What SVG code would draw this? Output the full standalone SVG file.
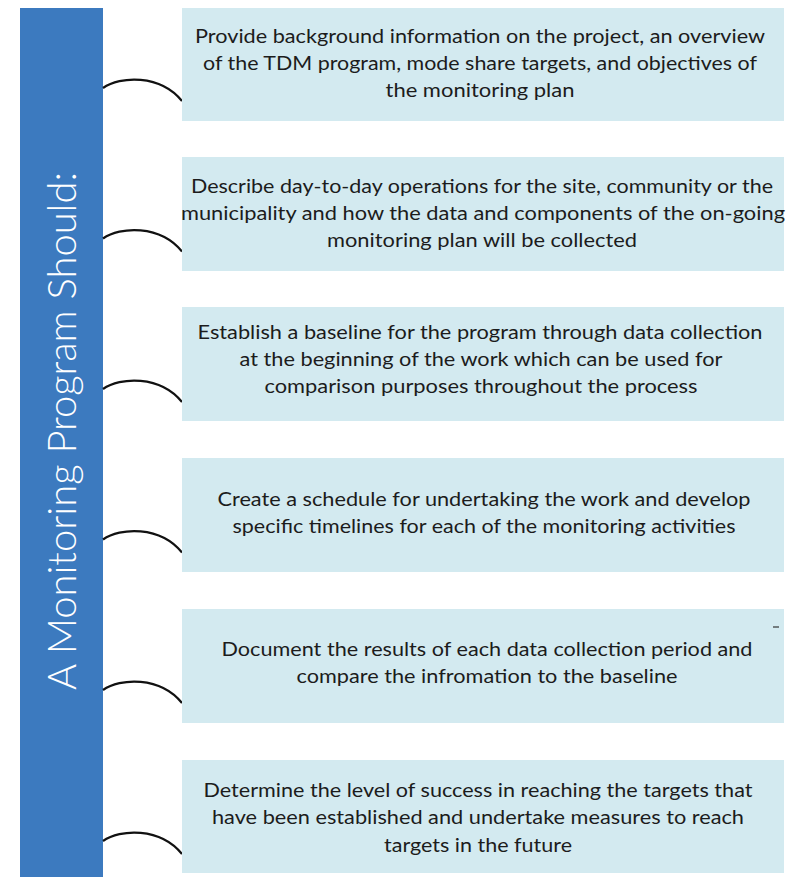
<svg xmlns="http://www.w3.org/2000/svg" width="795" height="877" viewBox="0 0 795 877">
  <style>
    .box { fill: #d3eaf0; }
    .label { font-family: Lato, "Liberation Sans", sans-serif; font-size: 19.5px; fill: #1c1c1c; text-anchor: middle; }
    .arc { fill: none; stroke: #111; stroke-width: 2.2; }
    .title { font-family: Lato, "Liberation Sans", sans-serif; font-weight: 300; font-size: 40px; fill: #ffffff; text-anchor: middle; }
  </style>
  <rect width="795" height="877" fill="#ffffff"/>

  <!-- vertical heading bar -->
  <g id="heading">
    <rect x="20" y="8" width="83" height="869" fill="#3c7abf"/>
    <text class="title" transform="translate(76,431) rotate(-90)" textLength="518" lengthAdjust="spacingAndGlyphs">A Monitoring Program Should:</text>
  </g>

  <!-- curved links from the bar to each step -->
  <g id="connectors">
    <path class="arc" d="M103,88 C120,76 160,74 182,101"/>
    <path class="arc" d="M103,238.5 C120,226.5 160,224.5 182,251.5"/>
    <path class="arc" d="M103,389 C120,377 160,375 182,402"/>
    <path class="arc" d="M103,539.5 C120,527.5 160,525.5 182,552.5"/>
    <path class="arc" d="M103,690 C120,678 160,676 182,703"/>
    <path class="arc" d="M103,841 C120,829 160,827 182,854"/>
  </g>

  <g id="step1">
    <rect class="box" x="182" y="8" width="602" height="113"/>
    <text class="label" x="480" y="43" textLength="570" lengthAdjust="spacingAndGlyphs">Provide background information on the project, an overview</text>
    <text class="label" x="480" y="70" textLength="554" lengthAdjust="spacingAndGlyphs">of the TDM program, mode share targets, and objectives of</text>
    <text class="label" x="480" y="97" textLength="189" lengthAdjust="spacingAndGlyphs">the monitoring plan</text>
  </g>

  <g id="step2">
    <rect class="box" x="182" y="157" width="602" height="114"/>
    <text class="label" x="482" y="193" textLength="582" lengthAdjust="spacingAndGlyphs">Describe day-to-day operations for the site, community or the</text>
    <text class="label" x="483" y="220" textLength="604" lengthAdjust="spacingAndGlyphs">municipality and how the data and  components of the on-going</text>
    <text class="label" x="482" y="247" textLength="310" lengthAdjust="spacingAndGlyphs">monitoring plan will be  collected</text>
  </g>

  <g id="step3">
    <rect class="box" x="182" y="307" width="602" height="114"/>
    <text class="label" x="480" y="339" textLength="565" lengthAdjust="spacingAndGlyphs">Establish a baseline for the program through data collection</text>
    <text class="label" x="481" y="366" textLength="483" lengthAdjust="spacingAndGlyphs">at the beginning of the work which can be used  for</text>
    <text class="label" x="481" y="393" textLength="433" lengthAdjust="spacingAndGlyphs">comparison purposes throughout the process</text>
  </g>

  <g id="step4">
    <rect class="box" x="182" y="458" width="602" height="114"/>
    <text class="label" x="484" y="506" textLength="533" lengthAdjust="spacingAndGlyphs">Create a schedule for undertaking the work and develop</text>
    <text class="label" x="484" y="533" textLength="503" lengthAdjust="spacingAndGlyphs">specific timelines for each of the monitoring activities</text>
  </g>

  <g id="step5">
    <rect class="box" x="182" y="609" width="602" height="114"/>
    <line x1="773" y1="627" x2="779" y2="627" stroke="#333" stroke-width="1.2"/>
    <text class="label" x="487" y="656" textLength="531" lengthAdjust="spacingAndGlyphs">Document the results of each data collection period and</text>
    <text class="label" x="487" y="683" textLength="381" lengthAdjust="spacingAndGlyphs">compare the infromation to the baseline</text>
  </g>

  <g id="step6">
    <rect class="box" x="182" y="760" width="602" height="113"/>
    <text class="label" x="478" y="797" textLength="549" lengthAdjust="spacingAndGlyphs">Determine the level of success in reaching the targets that</text>
    <text class="label" x="478" y="824" textLength="532" lengthAdjust="spacingAndGlyphs">have been established and undertake measures to reach</text>
    <text class="label" x="478" y="852" textLength="188" lengthAdjust="spacingAndGlyphs">targets in the future</text>
  </g>
</svg>
